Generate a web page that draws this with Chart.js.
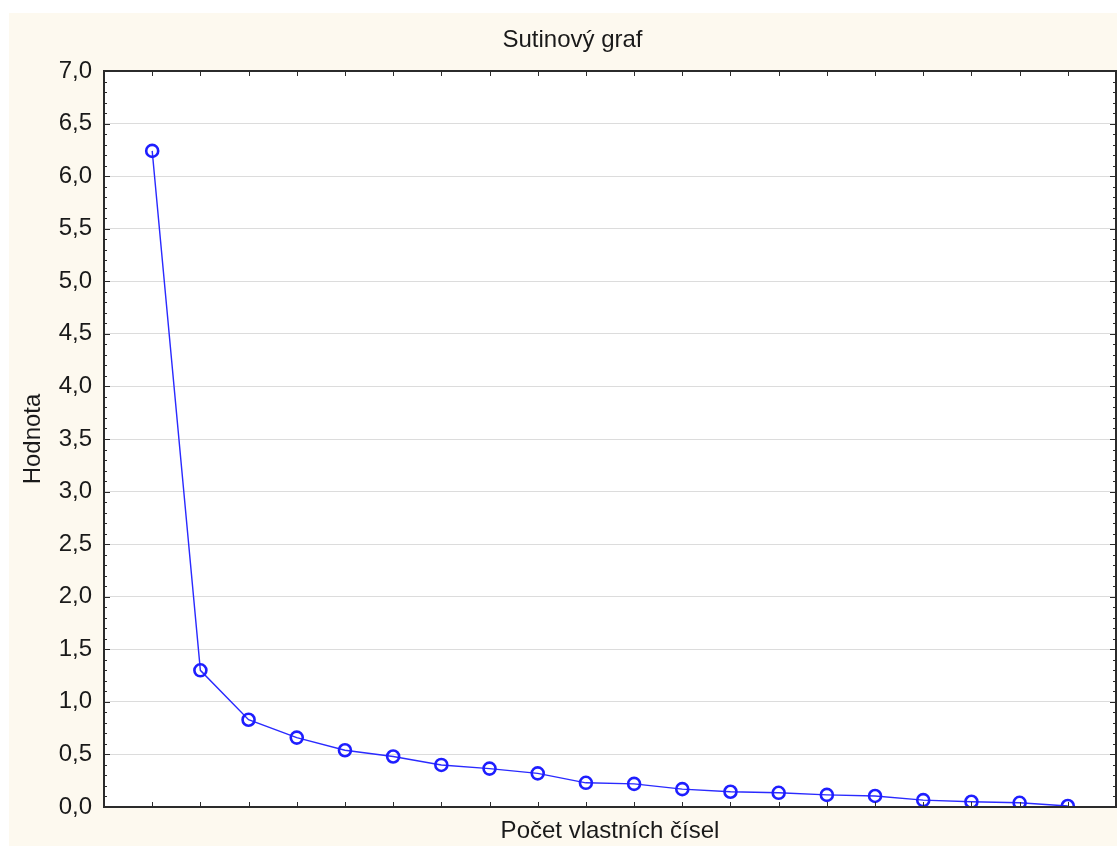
<!DOCTYPE html>
<html>
<head>
<meta charset="utf-8">
<title>Sutinový graf</title>
<script src="https://cdn.jsdelivr.net/npm/chart.js@4.4.1/dist/chart.umd.min.js"></script>
<style>
body{margin:0;background:#fff;}
canvas{display:block;}
</style>
</head>
<body>
<canvas id="sutinChart" width="1117" height="846"></canvas>
<script>
// poradi vlastnich cisel a jejich hodnoty
var cisla = [1, 2, 3, 4, 5, 6, 7, 8, 9, 10, 11, 12, 13, 14, 15, 16, 17, 18, 19, 20];
var hodnoty = [6.24, 1.30, 0.83, 0.66, 0.54, 0.48, 0.40, 0.365, 0.32, 0.23,
               0.22, 0.17, 0.145, 0.135, 0.115, 0.105, 0.065, 0.05, 0.04, 0.01];
var znackyY = [0, 0.5, 1, 1.5, 2, 2.5, 3, 3.5, 4, 4.5, 5, 5.5, 6, 6.5, 7];

var pismo = {family: "'Liberation Sans', Arial, sans-serif", size: 24, weight: 'normal', lineHeight: 1.2};
var barvaTextu = '#1a1a1a';

// podklad: krémový panel, bílá plocha grafu
var pozadi = {
	id: 'pozadi',
	beforeDraw: function(ch){
		var ctx = ch.ctx, a = ch.chartArea;
		ctx.save();
		ctx.fillStyle = '#ffffff';
		ctx.fillRect(0, 0, ch.width, ch.height);
		ctx.fillStyle = '#fdf9ef';
		ctx.fillRect(9, 13, ch.width - 9, ch.height - 13);
		ctx.fillStyle = '#ffffff';
		ctx.fillRect(a.left, a.top, a.right - a.left, a.bottom - a.top);
		ctx.restore();
	}
};

// ramecek a znacky dovnitr grafu
var ramecek = {
	id: 'ramecek',
	afterDraw: function(ch){
		var ctx = ch.ctx, a = ch.chartArea, sx = ch.scales.x, sy = ch.scales.y;
		ctx.save();
		ctx.strokeStyle = '#2b2b2b';
		ctx.lineWidth = 1;
		ctx.beginPath();
		var kroky = Math.round(sy.max * 10);
		for (var k = 1; k < kroky; k++){
			var y = Math.round(sy.getPixelForValue(k / 10)) + 0.5;
			var len = (k % 5 == 0) ? 6 : 3;
			ctx.moveTo(a.left, y); ctx.lineTo(a.left + len, y);
			ctx.moveTo(a.right, y); ctx.lineTo(a.right - len, y);
		}
		for (var i = 0; i < cisla.length; i++){
			var x = Math.round(sx.getPixelForValue(cisla[i])) + 0.5;
			ctx.moveTo(x, a.bottom); ctx.lineTo(x, a.bottom - 5);
			ctx.moveTo(x, a.top); ctx.lineTo(x, a.top + 5);
		}
		ctx.stroke();
		ctx.lineWidth = 2;
		ctx.strokeRect(a.left, a.top, a.right - a.left, a.bottom - a.top);
		ctx.restore();
	}
};

var body = [];
for (var i = 0; i < cisla.length; i++){
	body.push({x: cisla[i], y: hodnoty[i]});
}

var graf = new Chart(document.getElementById("sutinChart"), {
	type: 'line',
	data: {
		datasets: [{
			label: 'Hodnota',
			data: body,
			borderColor: '#2a2aff',
			borderWidth: 1.4,
			pointRadius: 6,
			pointBorderWidth: 2.6,
			pointBorderColor: '#1e1eff',
			pointBackgroundColor: 'rgba(0,0,0,0)',
			tension: 0
		}]
	},
	options: {
		responsive: false,
		animation: false,
		devicePixelRatio: 1,
		layout: {autoPadding: false, padding: {left: 29, right: 1, top: 0, bottom: 0}},
		plugins: {
			legend: {display: false},
			tooltip: {enabled: false},
			title: {
				display: true,
				text: 'Sutinový graf',
				font: pismo,
				color: barvaTextu,
				padding: {top: 26, bottom: 16.2}
			}
		},
		scales: {
			x: {
				type: 'linear',
				min: 0,
				max: cisla.length + 1,
				ticks: {display: false, stepSize: 1},
				grid: {display: false},
				border: {display: false},
				title: {display: true, text: 'Počet vlastních čísel', font: pismo, color: barvaTextu, padding: {top: 0, bottom: 0.6}},
				afterFit: function(s){ s.height = 39; }
			},
			y: {
				min: 0,
				max: 7,
				afterBuildTicks: function(s){
					s.ticks = znackyY.map(function(v){ return {value: v}; });
				},
				ticks: {
					autoSkip: false,
					padding: 12,
					font: pismo,
					color: barvaTextu,
					callback: function(v){ return Number(v).toFixed(1).replace('.', ','); }
				},
				grid: {color: '#dcdcdc', drawTicks: false, lineWidth: 1},
				border: {display: false},
				title: {display: true, text: 'Hodnota', font: pismo, color: barvaTextu, padding: {top: -10.4, bottom: 0}},
				afterFit: function(s){ s.width = 75; }
			}
		}
	},
	plugins: [pozadi, ramecek]
});
</script>
</body>
</html>
